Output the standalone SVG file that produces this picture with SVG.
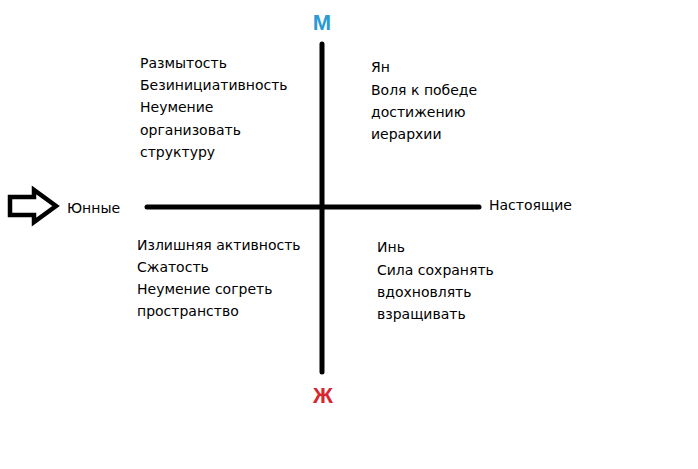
<svg xmlns="http://www.w3.org/2000/svg" width="698" height="469" viewBox="0 0 698 469">
<style>
.t{font-family:"DejaVu Sans","Liberation Sans",sans-serif;font-size:14px;fill:#000}
.ax{stroke:#000;stroke-width:5;stroke-linecap:round;fill:none}
.big{font-family:"Liberation Sans","DejaVu Sans",sans-serif;font-size:22px;font-weight:bold;text-anchor:middle}
</style>
<rect width="698" height="469" fill="#fff"/>
<g id="connectors">
<line class="ax" x1="322" y1="44" x2="322" y2="372"/>
<line class="ax" x1="147" y1="207" x2="479" y2="207"/>
</g>
<g id="arrow">
<path d="M10,197 L34,197 L34,190 L56,206 L34,222 L34,215 L10,215 Z" fill="none" stroke="#000" stroke-width="4.5" stroke-linejoin="miter"/>
</g>
<g id="label-m"><text class="big" x="322" y="30" fill="#2a9ad6">М</text></g>
<g id="label-zh"><text class="big" x="323" y="403" fill="#d9262c">Ж</text></g>
<g id="label-young"><text class="t" x="67" y="213">Юнные</text></g>
<g id="label-real"><text class="t" x="489" y="210">Настоящие</text></g>
<g id="q-top-left">
<text class="t" x="140" y="68">Размытость</text>
<text class="t" x="140" y="90">Безинициативность</text>
<text class="t" x="140" y="112">Неумение</text>
<text class="t" x="140" y="135">организовать</text>
<text class="t" x="140" y="157">структуру</text>
</g>
<g id="q-top-right">
<text class="t" x="371" y="72">Ян</text>
<text class="t" x="371" y="95">Воля к победе</text>
<text class="t" x="371" y="117">достижению</text>
<text class="t" x="371" y="139">иерархии</text>
</g>
<g id="q-bottom-left">
<text class="t" x="137" y="250">Излишняя активность</text>
<text class="t" x="137" y="272">Сжатость</text>
<text class="t" x="137" y="294">Неумение согреть</text>
<text class="t" x="137" y="316">пространство</text>
</g>
<g id="q-bottom-right">
<text class="t" x="377" y="252">Инь</text>
<text class="t" x="377" y="275">Сила сохранять</text>
<text class="t" x="377" y="297">вдохновлять</text>
<text class="t" x="377" y="319">взращивать</text>
</g>
</svg>
